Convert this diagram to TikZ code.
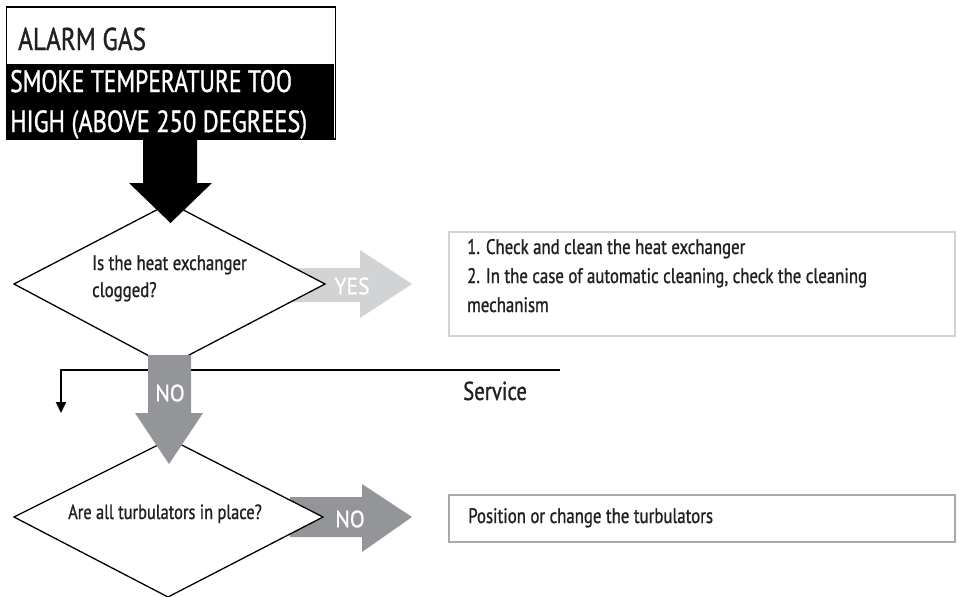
\documentclass[tikz,border=0pt]{standalone}
\usepackage{fontspec}
\usetikzlibrary{arrows.meta}
\newfontfamily\condfont{PT Sans}[FakeStretch=0.8, FakeBold=1]
\newfontfamily\narrowfont{PT Sans}[FakeStretch=0.76, FakeBold=1]
\newfontfamily\labfont{PT Sans}[FakeStretch=0.92, FakeBold=1]
\definecolor{ink}{HTML}{231F20}
\definecolor{lightarrow}{HTML}{D1D3D4}
\definecolor{darkarrow}{HTML}{939598}
\definecolor{lightframe}{HTML}{D1D3D4}
\definecolor{darkframe}{HTML}{A7A9AC}
\tikzset{
  txt/.style={inner sep=0pt, text=ink, anchor=base west},
  decision/.style={draw=black, fill=white, line width=1.3pt, line join=miter},
  actionbox/.style={draw=#1, fill=white, line width=2.2pt, inner sep=0pt, anchor=north west},
  arrowlabel/.style={inner sep=0pt, text=white, font=\fontsize{23.5}{23.5}\labfont},
}
\begin{document}
\begin{tikzpicture}[x=1pt, y=-1pt]
\useasboundingbox (0,0) rectangle (959,597);

% ---- heading box ----
\node[draw=black, line width=1.5pt, fill=white, inner sep=0pt,
      minimum width=329pt, minimum height=132pt, anchor=north west] (head) at (5.5,6) {};
\fill[black] (5.5,64) rectangle (334,138);
\node[txt, font=\fontsize{31.5}{31.5}\condfont] (alarm) at (18,50) {ALARM GAS};
\node[txt, text=white, font=\fontsize{31}{31}\narrowfont] (cause1) at (10,92) {SMOKE TEMPERATURE TOO};
\node[txt, text=white, font=\fontsize{30.5}{30.5}\condfont] (cause2) at (10,132) {HIGH (ABOVE 250 DEGREES)};

% ---- first decision ----
\coordinate (q1) at (170,284);
\fill[lightarrow] (290,268) -- (360,268) -- (360,250) -- (412,284)
      -- (360,318) -- (360,302) -- (290,302) -- cycle;
\node[arrowlabel] (yes) at (352,286) {YES};
\draw[decision] (14,284) -- (170,203) -- (325,284) -- (168,366) -- cycle;
\node[txt, font=\fontsize{21}{27}\condfont, align=left] (q1text) at (92,297)
      {Is the heat exchanger\\clogged?};
\fill[black] (143,137) -- (197,137) -- (197,183) -- (212,183) -- (170.5,223)
      -- (129,183) -- (143,183) -- cycle;

% ---- action for a clogged exchanger ----
\node[actionbox=lightframe, minimum width=506pt, minimum height=104pt] (act1) at (448,231) {};
\node[txt, font=\fontsize{21}{29}\condfont, align=left] (act1text) at (467,312)
      {1. Check and clean the heat exchanger\\
       2. In the case of automatic cleaning, check the cleaning\\
       mechanism};

% ---- second decision ----
\fill[darkarrow] (290,497) -- (362,497) -- (362,484) -- (412,517)
      -- (362,552) -- (362,537) -- (290,537) -- cycle;
\node[arrowlabel] (no2) at (350,519) {NO};
\draw[decision] (14,517) -- (170,439) -- (323,517) -- (168,597) -- cycle;
\node[txt, font=\fontsize{20.5}{20.5}\condfont] (q2text) at (68,519) {Are all turbulators in place?};

% ---- service branch ----
\coordinate (svcR) at (560,369.5);
\coordinate (svcC) at (61,369.5);
\coordinate (svcE) at (61,413);
\draw[line width=2pt, -{Triangle[width=10pt,length=11pt]}] (svcR) -- (svcC) -- (svcE);
\node[txt, font=\fontsize{26}{26}\condfont] (service) at (463,400) {Service};

% ---- NO path between the decisions ----
\fill[darkarrow] (148,355) -- (191,355) -- (191,413) -- (203,413) -- (169,464)
      -- (135,413) -- (148,413) -- cycle;
\node[arrowlabel] (no1) at (170,393) {NO};

% ---- action for missing turbulators ----
\node[actionbox=darkframe, minimum width=506pt, minimum height=47pt] (act2) at (448,494) {};
\node[txt, font=\fontsize{21}{21}\condfont] (act2text) at (468,523) {Position or change the turbulators};
\end{tikzpicture}
\end{document}
